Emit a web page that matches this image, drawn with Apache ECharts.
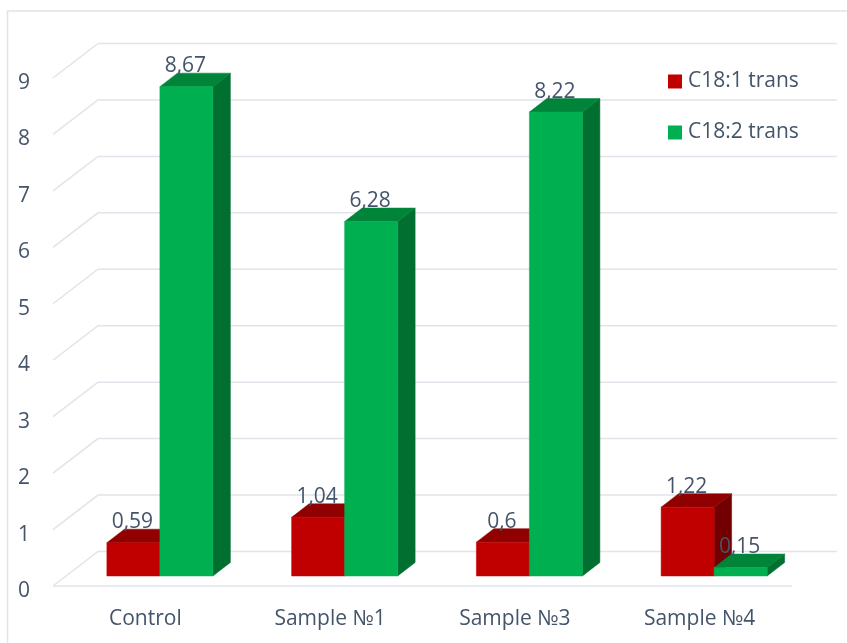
<!DOCTYPE html>
<html>
<head>
<meta charset="utf-8">
<style>html,body{margin:0;padding:0;background:#fff}#chart{width:847px;height:643px}</style>
<script src="https://cdn.jsdelivr.net/npm/echarts@6/dist/echarts.min.js"></script>
</head>
<body>
<div id="chart"></div>
<script>
const categories = ['Control', 'Sample №1', 'Sample №3', 'Sample №4'];
const c181Name = 'C18:1 trans';
const c182Name = 'C18:2 trans';
const c181Values = [0.59, 1.04, 0.6, 1.22];
const c182Values = [8.67, 6.28, 8.22, 0.15];
const axisTicks = [0, 1, 2, 3, 4, 5, 6, 7, 8, 9];

const textColor = '#44546a';
const gridColor = '#e1e4ea';
const fontFamily = '"Open Sans", "Noto Sans", sans-serif';
const fontSize = 21;

// Pseudo-3D depth of the chart floor and of each bar
const wallDx = 45, wallDy = 34.5;
const barFloorDx = 14.5, barFloorDy = 10;
const barDepthDx = 17.5, barDepthDy = 13.5;
const barWidth = 53;

const formatDecimal = v => String(v).replace('.', ',');

// Draws one cuboid: front face, top face, side face and a value label
function cuboidRenderer(seriesOffset, faces) {
  return function (params, api) {
    const base = api.coord([api.value(0), 0]);
    const top = api.coord([api.value(0), api.value(1)]);
    const x0 = base[0] + barFloorDx + seriesOffset * barWidth;
    const x1 = x0 + barWidth;
    const y0 = base[1] - barFloorDy;
    const y1 = top[1] - barFloorDy;
    const dx = barDepthDx, dy = barDepthDy;
    const poly = (points, fill) => ({
      type: 'polygon',
      shape: { points },
      style: { fill, stroke: fill, lineWidth: 0.5 }
    });
    return {
      type: 'group',
      children: [
        poly([[x1, y0], [x1 + dx, y0 - dy], [x1 + dx, y1 - dy], [x1, y1]], faces.side),
        poly([[x0, y1], [x1, y1], [x1 + dx, y1 - dy], [x0 + dx, y1 - dy]], faces.top),
        poly([[x0, y0], [x1, y0], [x1, y1], [x0, y1]], faces.front),
        {
          type: 'text',
          z2: 50,
          style: {
            x: (x0 + x1) / 2 - 1,
            y: y1 - dy - 7,
            text: formatDecimal(api.value(1)),
            fill: textColor,
            font: fontSize + 'px ' + fontFamily,
            align: 'center',
            verticalAlign: 'middle'
          }
        }
      ]
    };
  };
}

// Each tick draws a left-wall diagonal and the back-wall rule; zero also draws the floor edge
function wallRenderer(params, api) {
  const cs = params.coordSys;
  const v = api.value(0);
  const y = api.coord([0, v])[1];
  const left = cs.x;
  const right = cs.x + cs.width;
  const lineStyle = { stroke: gridColor, lineWidth: 1.5, fill: null };
  const children = [{
    type: 'polyline',
    shape: { points: [[left, y], [left + wallDx, y - wallDy], [right + wallDx, y - wallDy]] },
    style: lineStyle
  }];
  if (v === 0) {
    children.push({
      type: 'line',
      shape: { x1: left, y1: y, x2: right, y2: y },
      style: lineStyle
    });
  }
  return { type: 'group', children };
}

const chart = echarts.init(document.getElementById('chart'));
chart.setOption({
  animation: false,
  backgroundColor: '#ffffff',
  grid: { left: 53, right: 55, top: 78, bottom: 57 },
  legend: {
    data: [c181Name, c182Name],
    orient: 'vertical',
    left: 663,
    top: 66,
    icon: 'rect',
    itemWidth: 14,
    itemHeight: 14,
    itemGap: 30,
    textStyle: { color: textColor, fontSize, fontFamily, padding: [0, 0, 0, 1] },
    selectedMode: false
  },
  xAxis: {
    type: 'category',
    data: categories,
    axisLine: { show: false },
    axisTick: { show: false },
    axisLabel: { color: textColor, fontSize, fontFamily, margin: 23 }
  },
  yAxis: {
    type: 'value',
    min: 0,
    max: 9,
    interval: 1,
    splitLine: { show: false },
    axisLine: { show: false },
    axisTick: { show: false },
    // Top-aligned on a short line box, which sits the digits just below each tick height
    axisLabel: { color: textColor, fontSize, fontFamily, margin: 23, verticalAlign: 'top', lineHeight: 10 }
  },
  graphic: [{
    type: 'polyline',
    silent: true,
    z: -1,
    shape: { points: [[7.5, 643], [7.5, 11], [847, 11]] },
    style: { stroke: gridColor, lineWidth: 1.5, fill: null }
  }],
  series: [
    {
      type: 'custom',
      name: 'walls',
      silent: true,
      z: 1,
      renderItem: wallRenderer,
      encode: { y: 0 },
      data: axisTicks.map(t => [t])
    },
    {
      type: 'custom',
      name: c181Name,
      z: 2,
      itemStyle: { color: '#c00000' },
      renderItem: cuboidRenderer(-1, { front: '#c00000', top: '#900000', side: '#730000' }),
      encode: { x: 0, y: 1 },
      data: c181Values.map((v, i) => [i, v])
    },
    {
      type: 'custom',
      name: c182Name,
      z: 3,
      itemStyle: { color: '#00b050' },
      renderItem: cuboidRenderer(0, { front: '#00b050', top: '#008439', side: '#006f30' }),
      encode: { x: 0, y: 1 },
      data: c182Values.map((v, i) => [i, v])
    }
  ]
});
</script>
</body>
</html>
